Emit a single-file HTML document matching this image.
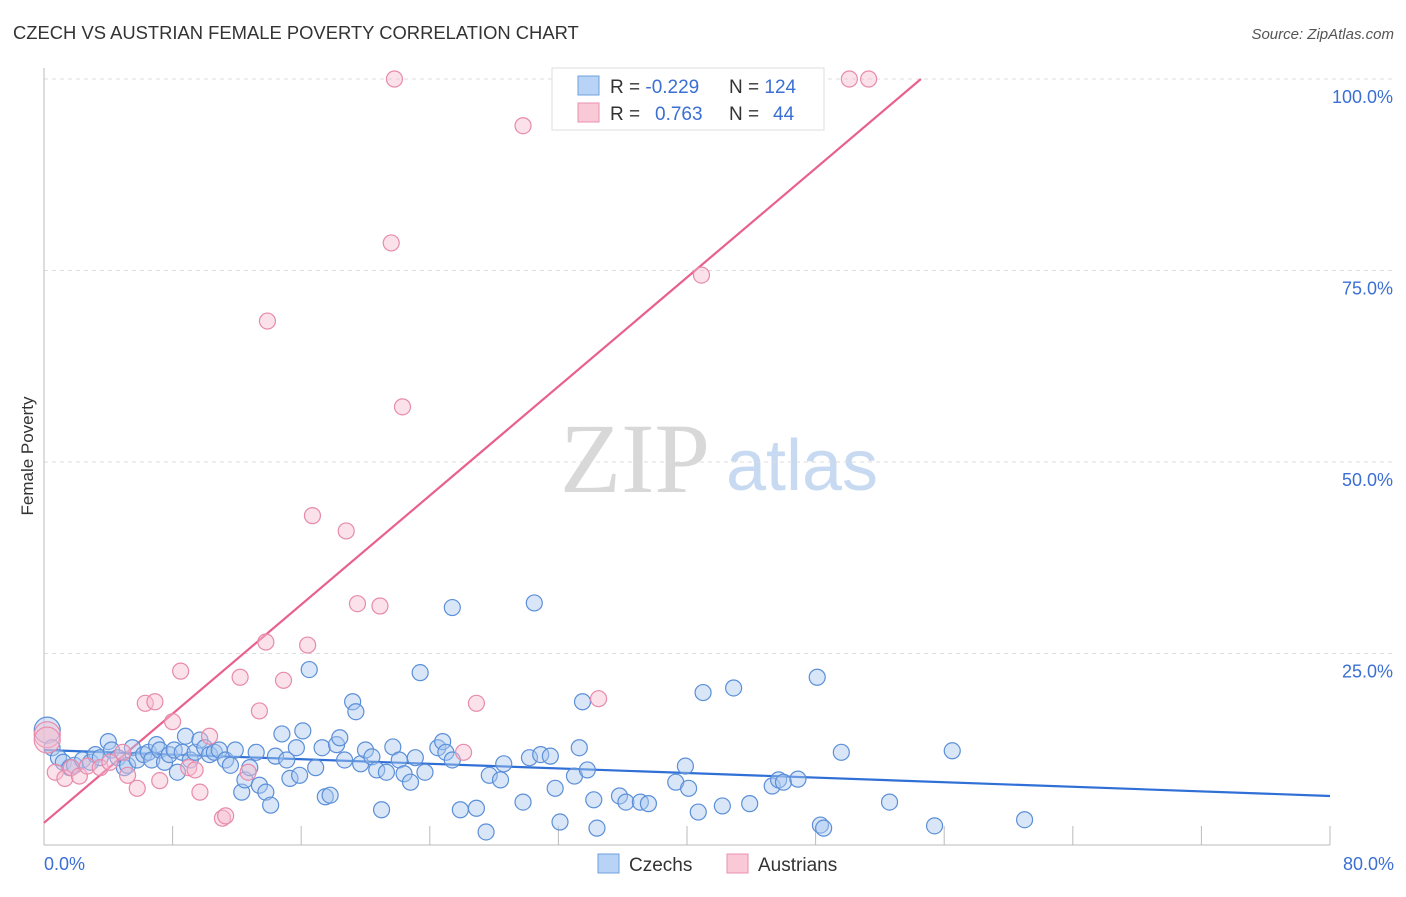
<!DOCTYPE html>
<html><head><meta charset="utf-8"><style>
body{margin:0;background:#fff;font-family:"Liberation Sans",sans-serif;}
</style></head><body>
<svg id="chart" width="1406" height="892" font-family="Liberation Sans, sans-serif">
<text x="13" y="39" font-size="18.4" fill="#333">CZECH VS AUSTRIAN FEMALE POVERTY CORRELATION CHART</text>
<text x="1394" y="39" font-size="15" fill="#555" font-style="italic" text-anchor="end">Source: ZipAtlas.com</text>
<text x="33" y="456" font-size="17" fill="#333" text-anchor="middle" transform="rotate(-90 33 456)">Female Poverty</text>
<g>
<text x="635" y="492" font-size="100" fill="#d8d8d8" style="font-family:'Liberation Serif',serif" text-anchor="middle">ZIP</text>
<text x="802" y="490" font-size="72" fill="#c8daf2" text-anchor="middle">atlas</text>
</g>
<g id="grid"></g><g id="axes"></g><g id="lines"></g><g id="pts"></g>
<g>
<rect x="552" y="68" width="272" height="62" fill="#fff" stroke="#ddd"/>
<rect x="578" y="76" width="21" height="19" fill="#b8d3f5" stroke="#6fa0e0"/>
<rect x="578" y="103" width="21" height="19" fill="#f9c9d8" stroke="#ea90ae"/>
<text x="610" y="93" font-size="19" fill="#333">R = <tspan fill="#3b6fd4">-0.229</tspan></text>
<text x="729" y="93" font-size="19" fill="#333">N = <tspan fill="#3b6fd4">124</tspan></text>
<text x="610" y="120" font-size="19" fill="#333">R = <tspan fill="#3b6fd4" x="655">0.763</tspan></text>
<text x="729" y="120" font-size="19" fill="#333">N = <tspan fill="#3b6fd4" x="773">44</tspan></text>
</g>
<g>
<rect x="598" y="854" width="21" height="19" fill="#b8d3f5" stroke="#6fa0e0"/>
<text x="629" y="871" font-size="19" fill="#333">Czechs</text>
<rect x="727" y="854" width="21" height="19" fill="#f9c9d8" stroke="#ea90ae"/>
<text x="758" y="871" font-size="19" fill="#333">Austrians</text>
</g>
</svg>
<script>
const xTicks=[0,8,16,24,32,40,48,56,64,72,80];
const yTicks=[25,50,75,100];
const czechX=[0.2,0.5,0.9,1.2,1.6,1.9,2.4,2.9,3.2,3.5,4.0,4.2,4.6,5.0,5.2,5.5,5.8,6.2,6.5,6.7,7.0,7.2,7.5,7.8,8.1,8.3,8.6,8.8,9.1,9.4,9.7,10.0,10.3,10.6,10.9,11.3,11.6,11.9,12.3,12.5,12.8,13.2,13.4,13.8,14.1,14.4,14.8,15.1,15.3,15.7,15.9,16.1,16.5,16.9,17.3,17.5,17.8,18.2,18.4,18.7,19.2,19.4,19.7,20.0,20.4,20.7,21.0,21.3,21.7,22.1,22.4,22.8,23.1,23.4,23.7,24.5,24.8,25.0,25.4,25.4,25.9,26.9,27.5,27.7,28.4,28.6,29.8,30.2,30.5,30.9,31.5,31.8,32.1,33.0,33.3,33.5,33.8,34.2,34.4,35.8,36.2,37.1,37.6,39.3,39.9,40.1,40.7,41.0,42.2,42.9,43.9,45.3,45.7,46.0,46.9,48.1,48.3,48.5,49.6,52.6,55.4,56.5,61.0];
const czechY=[15.0,12.7,11.4,10.8,10.1,10.4,11.1,10.8,11.8,11.4,13.5,12.4,11.4,10.1,10.4,12.7,11.1,11.8,12.1,11.1,13.1,12.4,10.8,11.8,12.4,9.5,12.1,14.2,11.1,12.1,13.7,12.7,11.8,12.1,12.4,11.1,10.4,12.4,6.9,8.5,10.1,12.1,7.8,6.9,5.2,11.6,14.5,11.1,8.7,12.7,9.1,14.9,22.9,10.1,12.7,6.3,6.5,13.1,14.0,11.1,18.7,17.4,10.6,12.4,11.5,9.8,4.6,9.5,12.8,11.1,9.3,8.2,11.4,22.5,9.5,12.7,13.5,12.1,11.1,31.0,4.6,4.8,1.7,9.1,8.5,10.6,5.6,11.4,31.6,11.8,11.6,7.4,3.0,9.0,12.7,18.7,9.8,5.9,2.2,6.4,5.6,5.6,5.4,8.2,10.3,7.4,4.3,19.9,5.1,20.5,5.4,7.7,8.5,8.2,8.6,21.9,2.6,2.2,12.1,5.6,2.5,12.3,3.3];
const austX=[0.2,0.7,1.3,1.7,2.2,2.7,3.5,4.1,4.9,5.2,5.8,6.3,6.9,7.2,8.0,8.5,9.0,9.4,9.7,10.3,11.1,11.3,12.2,12.7,13.4,13.8,13.9,14.9,16.4,16.7,18.8,19.5,20.9,21.6,21.8,22.3,26.1,26.9,29.8,34.5,40.9,50.1,51.3,0.2];
const austY=[14.4,9.5,8.7,10.1,9.0,10.3,10.1,10.8,12.1,9.1,7.4,18.5,18.7,8.4,16.1,22.7,10.1,9.8,6.9,14.2,3.5,3.8,21.9,9.5,17.5,26.5,68.4,21.5,26.1,43.0,41.0,31.5,31.2,78.6,100,57.2,12.1,18.5,93.9,19.1,74.4,100,100,13.7];
const czechFit=[12.4,-0.075];
const austFit=[2.9,1.78];
const NS='http://www.w3.org/2000/svg';
const X0=44,X1=1330,Y0=845,Y100=79;
const sx=v=>X0+(v/80)*(X1-X0);
const sy=v=>Y0-(v/100)*(Y0-Y100);
function mk(t,a,p){const e=document.createElementNS(NS,t);for(const k in a)e.setAttribute(k,a[k]);p.appendChild(e);return e;}
const grid=document.getElementById('grid'),axes=document.getElementById('axes'),lines=document.getElementById('lines'),pts=document.getElementById('pts');
yTicks.forEach(v=>{
 const l=mk('line',{x1:X0,x2:1394,y1:sy(v),y2:sy(v),stroke:'#ddd','stroke-dasharray':'4,4'},grid);
 
 
 const t=mk('text',{x:1393,y:sy(v)+24,'font-size':18,fill:'#3b6fd4','text-anchor':'end'},axes);
 t.textContent=v.toFixed(1)+'%';
 
 
});
mk('line',{x1:X0,x2:X0,y1:68,y2:Y0,stroke:'#bbb'},axes);
mk('line',{x1:X0,x2:X1,y1:Y0,y2:Y0,stroke:'#bbb'},axes);
xTicks.forEach(v=>{
 const l=mk('line',{x1:sx(v),x2:sx(v),y1:Y0-19,y2:Y0,stroke:'#bbb'},axes);
 
 
});
[[0,'start',X0],[80,'end',1394]].forEach(([v,a,x])=>{
 const t=mk('text',{x:x,y:870,'font-size':18,fill:'#3b6fd4','text-anchor':a},axes);
 t.textContent=v.toFixed(1)+'%';
 
 
});
function dots(xs,ys,fill,stroke,name){
 xs.forEach((x,i)=>{
  const big=i===0||(name==='austrian-point'&&i===xs.length-1);
  const c=mk('circle',{cx:sx(x),cy:sy(ys[i]),r:big?13:8,fill:fill,'fill-opacity':0.45,stroke:stroke,'stroke-width':1.2},pts);
  
  
 });
}
dots(czechX,czechY,'#a9c8f0','#5b8fd8','czech-point');
dots(austX,austY,'#f7bcd0','#e88aab','austrian-point');
const cl=mk('line',{x1:sx(0),y1:sy(czechFit[0]),x2:sx(80),y2:sy(czechFit[0]+czechFit[1]*80),stroke:'#2f6fd6','stroke-width':2.2},lines);


const xe=(100-austFit[0])/austFit[1];
const al=mk('line',{x1:sx(0),y1:sy(austFit[0]),x2:sx(xe),y2:sy(100),stroke:'#e8608e','stroke-width':2.2},lines);


</script>
</body></html>
